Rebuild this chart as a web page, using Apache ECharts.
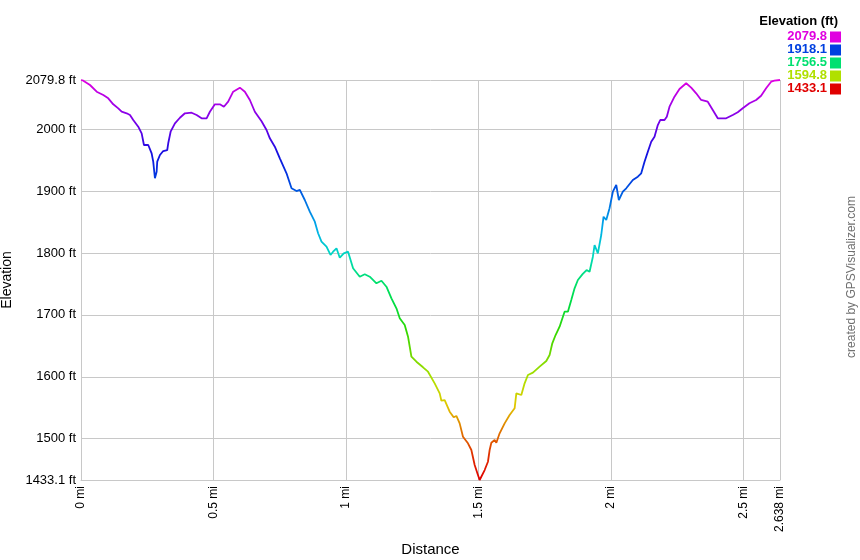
<!DOCTYPE html>
<html>
<head>
<meta charset="utf-8">
<script src="https://cdn.jsdelivr.net/npm/echarts@6/dist/echarts.min.js"></script>
<style>
html,body{margin:0;padding:0;background:#fff;}
#chart{width:860px;height:560px;}
</style>
</head>
<body>
<div id="chart"></div>
<script>
// Distance along track (mi)
const distance = [
  0, 0.0087, 0.0339, 0.0592, 0.0841, 0.1029, 0.1218, 0.1407, 0.1535, 0.1723,
  0.1848, 0.1972, 0.2161, 0.2289, 0.2376, 0.2538, 0.2666, 0.2726, 0.2790, 0.2854,
  0.2877, 0.2979, 0.3103, 0.3254, 0.3292, 0.3382, 0.3545, 0.3733, 0.3922, 0.4174,
  0.4363, 0.4551, 0.4740, 0.4864, 0.5053, 0.5241, 0.5392, 0.5554, 0.5743, 0.5995,
  0.6184, 0.6373, 0.6561, 0.6814, 0.7002, 0.7127, 0.7315, 0.7504, 0.7756, 0.7945,
  0.8133, 0.8258, 0.8446, 0.8635, 0.8824, 0.8948, 0.9076, 0.9265, 0.9416, 0.9514,
  0.9642, 0.9766, 0.9917, 1.0079, 1.0143, 1.0268, 1.0520, 1.0709, 1.0897, 1.1150,
  1.1339, 1.1527, 1.1716, 1.1904, 1.2029, 1.2217, 1.2342, 1.2470, 1.2659, 1.2908,
  1.3096, 1.3348, 1.3537, 1.3601, 1.3725, 1.3914, 1.4065, 1.4167, 1.4291, 1.4416,
  1.4604, 1.4732, 1.4857, 1.4981, 1.5045, 1.5109, 1.5234, 1.5358, 1.5422, 1.5486,
  1.5611, 1.5675, 1.5799, 1.5988, 1.6176, 1.6365, 1.6429, 1.6618, 1.6742, 1.6867,
  1.7055, 1.7308, 1.7560, 1.7685, 1.7787, 1.7911, 1.8062, 1.8187, 1.8250, 1.8375,
  1.8503, 1.8627, 1.8752, 1.8929, 1.9080, 1.9193, 1.9318, 1.9382, 1.9506, 1.9634,
  1.9721, 1.9823, 1.9947, 2.0072, 2.0200, 2.0298, 2.0449, 2.0577, 2.0637, 2.0826,
  2.1015, 2.1143, 2.1267, 2.1392, 2.1520, 2.1644, 2.1769, 2.1859, 2.2021, 2.2108,
  2.2210, 2.2398, 2.2587, 2.2839, 2.3028, 2.3216, 2.3405, 2.3654, 2.3843, 2.4031,
  2.4348, 2.4597, 2.4785, 2.4974, 2.5226, 2.5479, 2.5667, 2.5856, 2.6045, 2.6169,
  2.638
];
// Elevation (ft)
const elevation = [
  2079.8, 2078.7, 2071.7, 2060.9, 2055.5, 2050.2, 2040.5, 2034.0, 2028.5, 2026.0,
  2023.2, 2015.1, 2004.3, 1993.6, 1974.7, 1974.7, 1961.3, 1947.7, 1921.0, 1931.5,
  1947.7, 1958.5, 1965.0, 1966.6, 1977.5, 1996.2, 2009.8, 2018.8, 2026.0, 2026.9,
  2023.2, 2017.9, 2017.9, 2028.5, 2040.5, 2040.5, 2036.6, 2044.7, 2060.9, 2067.4,
  2060.9, 2047.5, 2028.5, 2013.0, 1999.0, 1985.5, 1972.0, 1953.2, 1929.0, 1904.7,
  1900.3, 1902.0, 1885.8, 1866.9, 1850.7, 1832.0, 1818.4, 1810.3, 1796.9, 1802.2,
  1807.7, 1792.5, 1799.6, 1802.2, 1800.6, 1775.4, 1761.8, 1765.7, 1761.8, 1751.1,
  1755.3, 1745.6, 1726.9, 1710.7, 1694.5, 1683.7, 1664.8, 1632.4, 1624.3, 1615.3,
  1608.2, 1589.4, 1573.2, 1561.3, 1562.4, 1543.5, 1534.5, 1536.6, 1524.7, 1503.1,
  1492.4, 1481.6, 1457.3, 1441.2, 1433.1, 1435.8, 1449.2, 1462.6, 1481.6, 1493.4,
  1497.7, 1493.4, 1508.6, 1524.7, 1538.2, 1549.0, 1573.2, 1570.5, 1589.4, 1602.8,
  1606.6, 1616.3, 1625.5, 1635.2, 1654.1, 1667.5, 1680.9, 1697.1, 1705.2, 1705.2,
  1724.1, 1743.0, 1756.4, 1766.0, 1772.6, 1769.9, 1794.1, 1813.0, 1799.6, 1829.2,
  1858.8, 1853.4, 1872.4, 1899.2, 1910.0, 1885.8, 1899.2, 1904.7, 1902.0, 1918.1,
  1923.5, 1929.0, 1947.7, 1963.9, 1980.0, 1988.1, 2007.0, 2015.1, 2015.1, 2020.5,
  2036.6, 2052.8, 2065.2, 2074.5, 2067.4, 2058.3, 2047.5, 2044.7, 2031.3, 2017.9,
  2017.9, 2023.2, 2027.6, 2034.0, 2042.1, 2047.5, 2054.4, 2066.4, 2077.1, 2078.7,
  2079.8
];
const elevMin = 1433.1;
const elevMax = 2079.8;
const distMax = 2.638;
const legendTitle = 'Elevation (ft)';
const legendValues = ['2079.8', '1918.1', '1756.5', '1594.8', '1433.1'];
const legendColors = ['#e000e0', '#0040e0', '#00e070', '#b0e000', '#e00000'];
const gradientColors = [
  '#e00000', '#e03000', '#e07800', '#e0c800', '#b0e000', '#70d800', '#30d800', '#00dc40',
  '#00e070', '#00d8c0', '#00b0e8', '#0078e4', '#0040e0', '#1010e0', '#6000e8', '#a000e8', '#e000e0'
];
const creditText = 'created by GPSVisualizer.com';

const FONT = "'Liberation Sans', Arial, Helvetica, sans-serif";
const chart = echarts.init(document.getElementById('chart'), null, {renderer: 'canvas'});

const graphics = [
  {type: 'text', x: 838, y: 21, style: {text: legendTitle, font: 'bold 13px ' + FONT, fill: '#000', textAlign: 'right', textVerticalAlign: 'middle'}},
  {type: 'text', x: 852, y: 277, rotation: Math.PI / 2, style: {text: creditText, font: '12px ' + FONT, fill: '#707070', textAlign: 'center', textVerticalAlign: 'middle'}}
];
legendValues.forEach((v, i) => {
  const cy = 36.5 + i * 13;
  graphics.push({type: 'text', x: 827, y: cy, style: {text: v, font: 'bold 13px ' + FONT, fill: legendColors[i], textAlign: 'right', textVerticalAlign: 'middle'}});
  graphics.push({type: 'rect', shape: {x: 830, y: cy - 5, width: 11, height: 11}, style: {fill: legendColors[i]}});
});

const option = {
  animation: false,
  backgroundColor: '#fff',
  textStyle: {fontFamily: FONT},
  grid: {left: 81, right: 80, top: 80, bottom: 80, containLabel: false, outerBoundsMode: 'none'},
  xAxis: {
    type: 'value', min: 0, max: distMax, interval: 0.5,
    name: 'Distance', nameLocation: 'middle', nameGap: 62,
    nameTextStyle: {fontSize: 15, color: '#000', fontFamily: FONT},
    axisLine: {show: true, lineStyle: {color: '#c8c8c8', width: 1}},
    axisTick: {show: false},
    axisLabel: {rotate: 90, margin: 6, fontSize: 12, color: '#000', fontFamily: FONT,
      showMinLabel: true, showMaxLabel: true,
      formatter: v => (Math.round(v * 1000) / 1000) + ' mi'},
    splitLine: {show: true, lineStyle: {color: '#c8c8c8', width: 1}}
  },
  yAxis: {
    type: 'value', min: elevMin, max: elevMax,
    name: 'Elevation', nameLocation: 'middle', nameGap: 64, nameRotate: 90,
    nameTextStyle: {fontSize: 14, color: '#000', fontFamily: FONT},
    axisLine: {show: true, lineStyle: {color: '#c8c8c8', width: 1}},
    axisTick: {show: false},
    axisLabel: {margin: 5, fontSize: 13, color: '#000', fontFamily: FONT,
      showMinLabel: true, showMaxLabel: true,
      formatter: v => (Math.round(v * 10) / 10) + ' ft'},
    splitLine: {show: true, lineStyle: {color: '#c8c8c8', width: 1}}
  },
  visualMap: {
    show: false, type: 'continuous', dimension: 1,
    min: elevMin, max: elevMax,
    inRange: {color: gradientColors}
  },
  graphic: graphics,
  series: [{
    type: 'line',
    showSymbol: false,
    symbol: 'none',
    lineStyle: {width: 1.8},
    data: distance.map((d, i) => [d, elevation[i]])
  }]
};
chart.setOption(option);
</script>
</body>
</html>
